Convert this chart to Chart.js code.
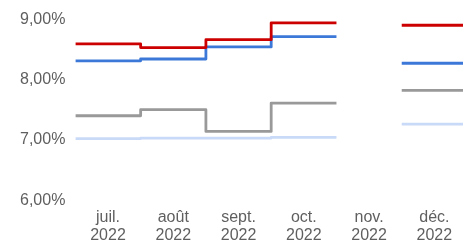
<!DOCTYPE html>
<html lang="fr">
<head>
<meta charset="UTF-8">
<script src="https://cdn.jsdelivr.net/npm/chart.js@4/dist/chart.umd.min.js"></script>
<style>
*{margin:0;padding:0;box-sizing:border-box}
html,body{width:463px;height:250px;overflow:hidden;background:#fff}
.wrap{position:relative;width:467px;height:253px}
</style>
</head>
<body>
<div class="wrap"><canvas id="c" width="467" height="253"></canvas></div>
<script>
// categories (month / year, shown on two lines)
var categories = ["juil. 2022", "août 2022", "sept. 2022", "oct. 2022", "nov. 2022", "déc. 2022"];
// series values in %, null = no value for that month
var redValues   = [8.59, 8.53, 8.66, 8.94, null, 8.90];
var blueValues  = [8.31, 8.34, 8.54, 8.71, null, 8.27];
var greyValues  = [7.40, 7.50, 7.14, 7.61, null, 7.82];
var paleValues  = [7.02, 7.03, 7.03, 7.04, null, 7.26];
var yTicks = [6, 7, 8, 9];

// each month is drawn as a flat segment across its band, joined by vertical steps
function bandPoints(vals) {
  var pts = [];
  vals.forEach(function(v, i) {
    pts.push({x: i, y: v});
    pts.push({x: i + 1, y: v});
  });
  return pts;
}

function ds(vals, col) {
  return {
    data: bandPoints(vals),
    borderColor: col,
    borderWidth: 2.8,
    pointRadius: 0,
    fill: false,
    tension: 0,
    spanGaps: false,
    borderJoinStyle: "round"
  };
}

var font = {family: "'Liberation Sans', Arial, sans-serif", size: 16, lineHeight: 1.15};

new Chart(document.getElementById("c"), {
  type: "line",
  data: {
    datasets: [
      ds(redValues, "#cc0000"),
      ds(blueValues, "#3c78d8"),
      ds(greyValues, "#999999"),
      ds(paleValues, "#c9daf8")
    ]
  },
  options: {
    responsive: false,
    animation: false,
    devicePixelRatio: 1,
    layout: {padding: {left: 10, top: 2, right: 0, bottom: 0}},
    plugins: {legend: {display: false}, tooltip: {enabled: false}},
    scales: {
      x: {
        type: "linear",
        min: 0,
        max: categories.length,
        grid: {display: false, drawTicks: false},
        border: {display: false},
        afterBuildTicks: function(s) {
          s.ticks = categories.map(function(c, i) { return {value: i + 0.5}; });
        },
        ticks: {
          autoSkip: false,
          maxRotation: 0,
          padding: 8,
          color: "#5f5f5f",
          font: font,
          callback: function(v) { return categories[Math.round(v - 0.5)].split(" "); }
        }
      },
      y: {
        min: yTicks[0],
        max: yTicks[yTicks.length - 1],
        grid: {display: false, drawTicks: false},
        border: {display: false},
        afterBuildTicks: function(s) {
          s.ticks = yTicks.map(function(t) { return {value: t}; });
        },
        ticks: {
          padding: 10,
          color: "#5f5f5f",
          font: font,
          callback: function(v) { return v.toFixed(2).replace(".", ",") + "%"; }
        }
      }
    }
  }
});
</script>
</body>
</html>
